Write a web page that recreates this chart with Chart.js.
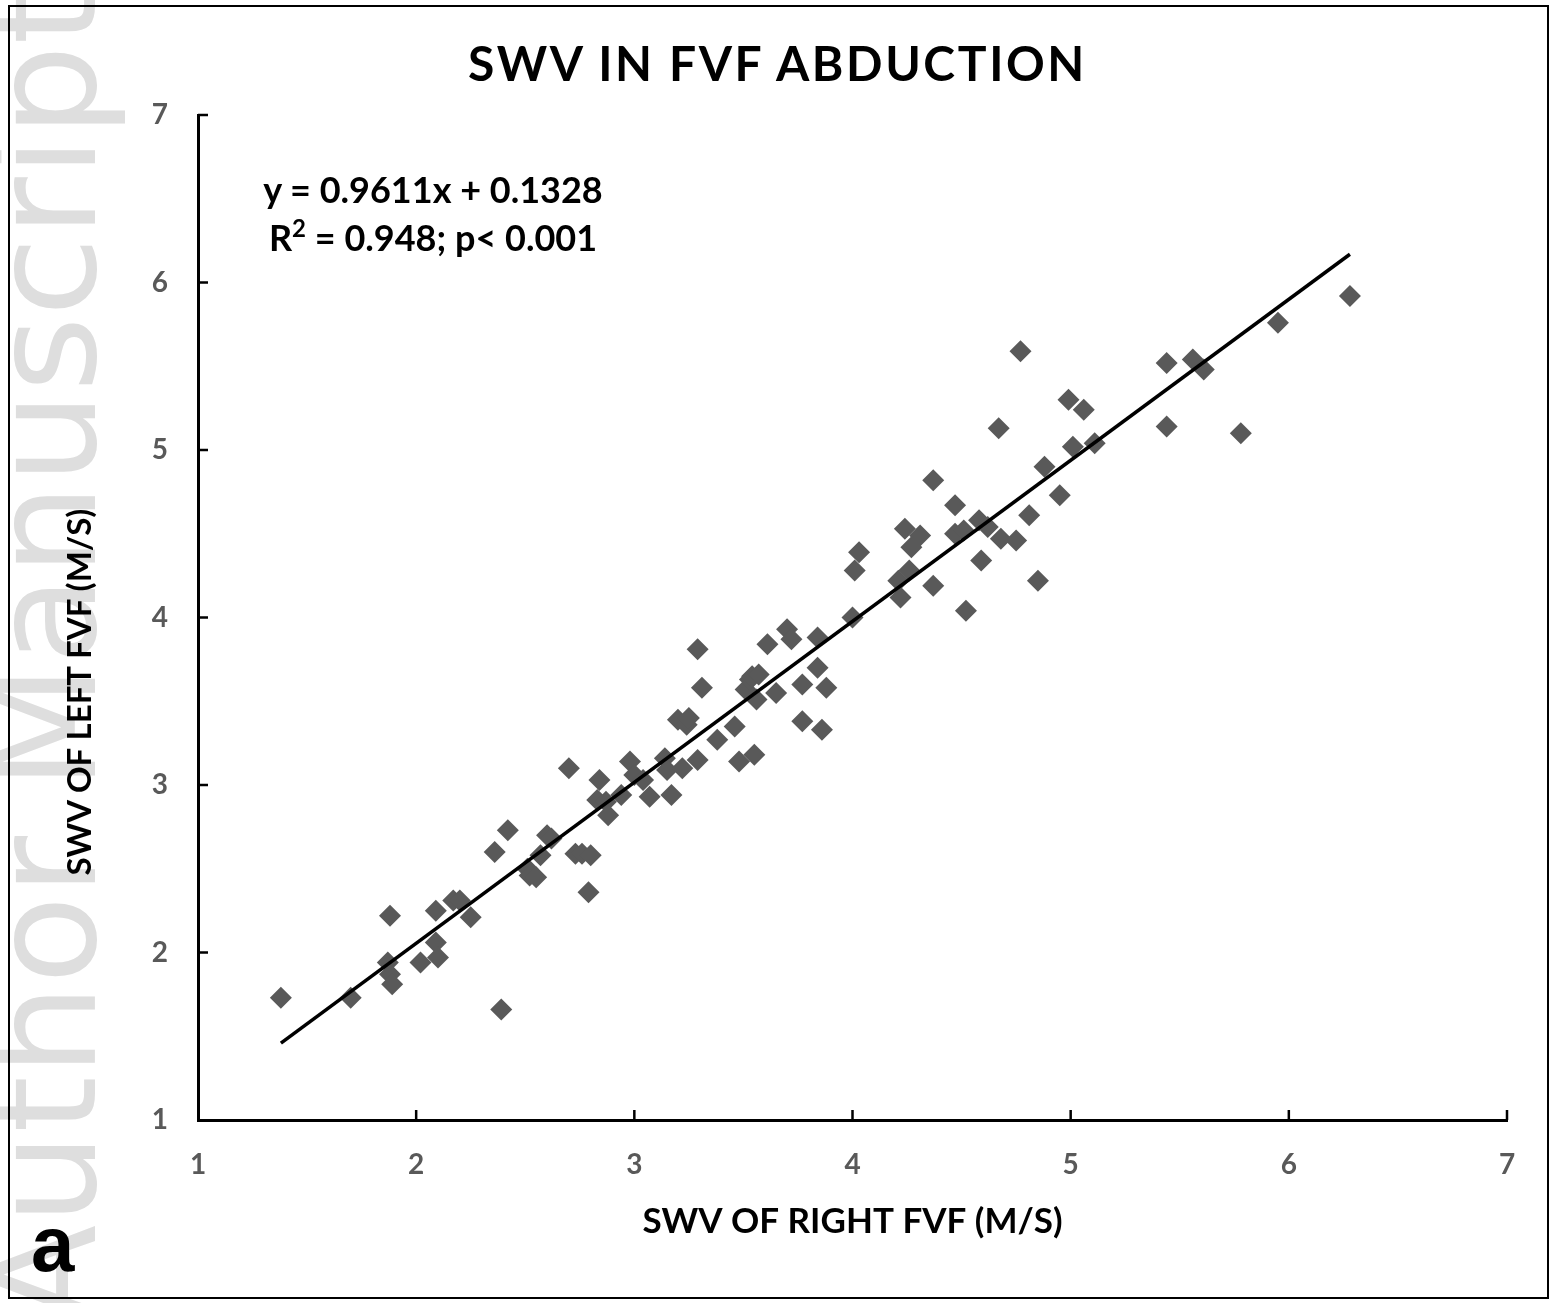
<!DOCTYPE html>
<html>
<head>
<meta charset="utf-8">
<title>SWV in FVF abduction</title>
<script src="https://cdn.jsdelivr.net/npm/chart.js@4.4.1/dist/chart.umd.min.js"></script>
<style>
  body { margin: 0; background: #fff; }
  #wrap { position: relative; width: 1555px; height: 1303px; overflow: hidden; background: #fff; }
  #wm {
    position: absolute; left: 0; top: 0; white-space: nowrap;
    font-family: "DejaVu Sans"; font-weight: normal; font-size: 145px; line-height: 145px;
    color: #dedede; transform-origin: 0 0;
    transform: translate(-28px, 1324px) rotate(-90deg);
  }
  #c { position: absolute; left: 0; top: 0; }
  #frame { position: absolute; left: 8px; top: 5px; width: 1537px; height: 1290px; border: 2px solid #000; }
  .lbl { position: absolute; font-family: Lato, sans-serif; font-weight: bold; color: #000; white-space: nowrap; }
  #title { left: 0; width: 1555px; top: 39px; text-align: center; font-size: 48px; line-height: 48px; letter-spacing: 2.6px; }
  #ytitle { left: 78px; top: 692px; font-size: 33px; line-height: 33px; transform: translate(-50%, -50%) rotate(-90deg); }
  #eq { left: 233px; width: 400px; top: 165px; text-align: center; font-size: 36px; line-height: 48px; }
  #eq sup { font-size: 24px; line-height: 0; vertical-align: 14px; }
  #panel { left: 31px; top: 1199px; font-family: "Liberation Sans", Arial, sans-serif; font-size: 78px; line-height: 90px; }
</style>
</head>
<body>
<div id="wrap">
  <div id="wm">Author Manuscript</div>
  <canvas id="c" width="1555" height="1303"></canvas>
  <div id="frame"></div>
  <div id="title" class="lbl">SWV IN FVF ABDUCTION</div>
  <div id="ytitle" class="lbl">SWV OF LEFT FVF (M/S)</div>
  <div id="eq" class="lbl">y = 0.9611x + 0.1328<br>R<sup>2</sup> = 0.948; p&lt; 0.001</div>
  <div id="panel" class="lbl">a</div>
</div>
<script>
// SWV (m/s), right FVF (x) vs left FVF (y)
const rightFVF = [1.38, 1.70, 1.88, 1.87, 1.88, 1.89, 2.02, 2.09, 2.10, 2.09,
  2.17, 2.20, 2.25, 2.36, 2.42, 2.39, 2.51, 2.52, 2.55, 2.57,
  2.60, 2.62, 2.70, 2.73, 2.76, 2.80, 2.79, 2.84, 2.83, 2.87,
  2.88, 2.94, 2.98, 3.00, 3.04, 3.07, 3.14, 3.15, 3.17, 3.22,
  3.20, 3.24, 3.25, 3.29, 3.31, 3.29, 3.38, 3.46, 3.48, 3.51,
  3.53, 3.54, 3.56, 3.57, 3.55, 3.61, 3.65, 3.70, 3.72, 3.77,
  3.77, 3.84, 3.84, 3.86, 3.88, 4.00, 4.01, 4.03, 4.21, 4.22,
  4.24, 4.27, 4.26, 4.31, 4.37, 4.37, 4.47, 4.47, 4.51, 4.52,
  4.58, 4.59, 4.62, 4.67, 4.68, 4.75, 4.77, 4.81, 4.85, 4.88,
  4.95, 4.99, 5.01, 5.06, 5.11, 5.44, 5.44, 5.56, 5.61, 5.78,
  5.95, 6.28];
const leftFVF = [1.73, 1.73, 2.22, 1.94, 1.87, 1.81, 1.94, 2.06, 1.97, 2.25,
  2.31, 2.31, 2.21, 2.60, 2.73, 1.66, 2.50, 2.46, 2.45, 2.58,
  2.70, 2.68, 3.10, 2.59, 2.59, 2.58, 2.36, 3.03, 2.91, 2.90,
  2.82, 2.94, 3.14, 3.06, 3.03, 2.93, 3.16, 3.09, 2.94, 3.10,
  3.39, 3.36, 3.40, 3.81, 3.58, 3.15, 3.27, 3.35, 3.14, 3.57,
  3.63, 3.65, 3.51, 3.66, 3.18, 3.84, 3.55, 3.93, 3.87, 3.38,
  3.60, 3.88, 3.70, 3.33, 3.58, 4.00, 4.28, 4.39, 4.22, 4.12,
  4.53, 4.42, 4.28, 4.49, 4.82, 4.19, 4.67, 4.50, 4.52, 4.04,
  4.58, 4.34, 4.54, 5.13, 4.47, 4.46, 5.59, 4.61, 4.22, 4.90,
  4.73, 5.30, 5.02, 5.24, 5.04, 5.52, 5.14, 5.54, 5.48, 5.10,
  5.76, 5.92];

// linear trend line as printed on the chart
const slope = 0.9611;
const intercept = 0.1328;

const axisMin = 1;
const axisMax = 7;

const points = rightFVF.map((x, i) => ({ x: x, y: leftFVF[i] }));
const xEnds = [Math.min(...rightFVF), Math.max(...rightFVF)];
const trend = xEnds.map(x => ({ x: x, y: slope * x + intercept }));

// Excel style tick marks pointing into the plot
const innerTicks = {
  id: 'innerTicks',
  afterDraw(chart) {
    const { ctx, chartArea: a, scales: { x, y } } = chart;
    ctx.save();
    ctx.strokeStyle = '#000';
    ctx.lineWidth = 2.5;
    ctx.beginPath();
    x.ticks.forEach(t => {
      if (t.value === x.min) return;
      const px = x.getPixelForValue(t.value);
      ctx.moveTo(px, a.bottom);
      ctx.lineTo(px, a.bottom - 10);
    });
    y.ticks.forEach(t => {
      if (t.value === y.min) return;
      const py = y.getPixelForValue(t.value);
      ctx.moveTo(a.left, py);
      ctx.lineTo(a.left + 10, py);
    });
    ctx.stroke();
    ctx.restore();
  }
};

const tickFont = { family: 'Lato', weight: 'bold', size: 28 };

new Chart(document.getElementById('c'), {
  type: 'scatter',
  data: {
    datasets: [
      {
        label: 'trend',
        type: 'line',
        data: trend,
        borderColor: '#000',
        borderWidth: 3.5,
        pointRadius: 0,
        fill: false,
        order: 0
      },
      {
        label: 'SWV',
        data: points,
        pointStyle: 'rectRot',
        pointRadius: 11,
        pointHoverRadius: 11,
        backgroundColor: '#595959',
        borderWidth: 0,
        order: 1
      }
    ]
  },
  options: {
    responsive: false,
    animation: false,
    events: [],
    layout: { autoPadding: false, padding: { left: 0, right: 48, top: 115, bottom: 0 } },
    plugins: {
      legend: { display: false },
      tooltip: { enabled: false },
      title: { display: false }
    },
    scales: {
      x: {
        type: 'linear',
        min: axisMin,
        max: axisMax,
        afterFit: s => { s.height = 183; },
        grid: { display: false, drawTicks: false },
        border: { display: true, color: '#000', width: 3 },
        ticks: { stepSize: 1, padding: 28, color: '#595959', font: tickFont },
        title: {
          display: true,
          text: 'SWV OF RIGHT FVF (M/S)',
          color: '#000',
          font: { family: 'Lato', weight: 'bold', size: 35 },
          padding: { top: 0, bottom: 60 }
        }
      },
      y: {
        type: 'linear',
        min: axisMin,
        max: axisMax,
        afterFit: s => { s.width = 198; },
        grid: { display: false, drawTicks: false },
        border: { display: true, color: '#000', width: 3 },
        ticks: { stepSize: 1, padding: 30, color: '#595959', font: tickFont }
      }
    }
  },
  plugins: [innerTicks]
});
</script>
</body>
</html>
